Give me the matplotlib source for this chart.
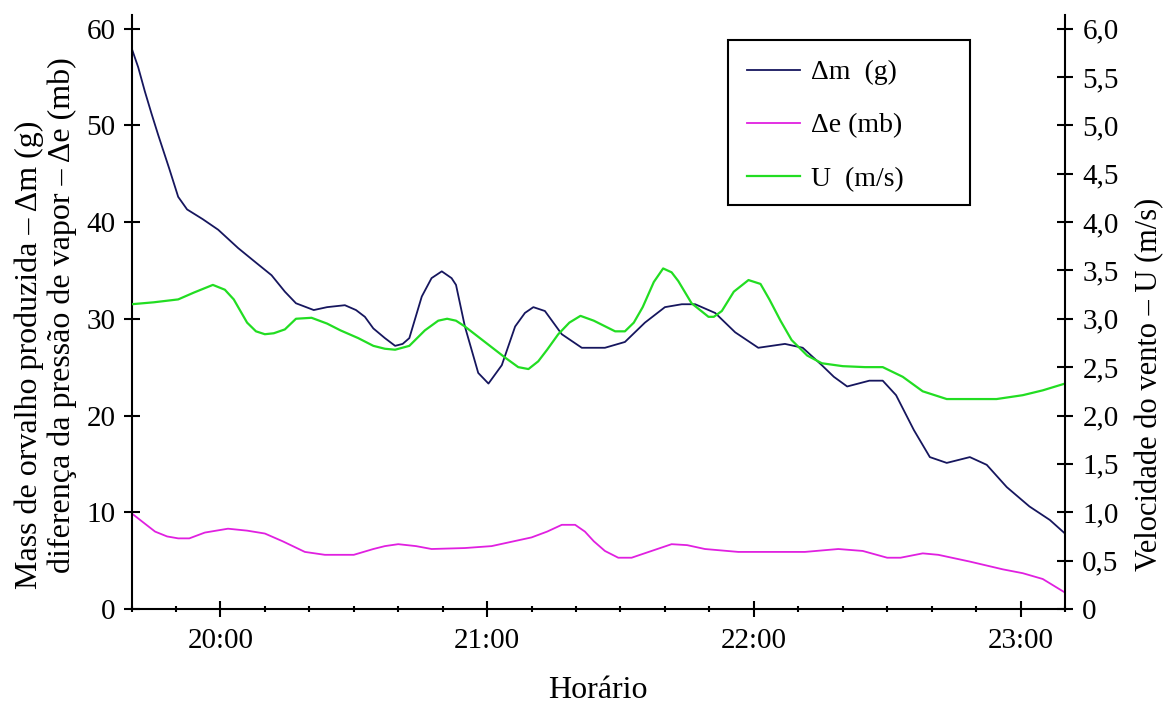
import matplotlib
matplotlib.use("Agg")
import matplotlib.pyplot as plt
from matplotlib.patches import Rectangle
from matplotlib.ticker import FixedLocator, MultipleLocator, FuncFormatter

plt.rcParams['font.family'] = ['Liberation Serif', 'DejaVu Serif']

# minutes after 19:40
dm_t = [0, 1.5, 3, 4.5, 6, 8.5, 10.5, 12.5, 16, 19.5, 24, 28, 31.5, 34.5, 37,
        41, 44, 48, 50.5, 52.5, 54.4, 57, 59.3, 61, 62.5, 65.3, 67.5, 69.8, 72,
        73, 75, 78, 80.3, 83.3, 86.3, 88.5, 90.4, 93, 96.8, 101.3, 106.5, 111,
        115.5, 120, 123.8, 126.8, 131.3, 135.8, 141, 147, 151, 155.3, 158, 161,
        166, 169, 172, 176, 179.6, 183.4, 188.6, 192.4, 196.9, 202, 206.6, 210]
dm = [58.0, 56.0, 53.5, 51.2, 49.0, 45.5, 42.6, 41.3, 40.3, 39.2, 37.3, 35.8,
      34.5, 32.8, 31.6, 30.9, 31.2, 31.4, 30.9, 30.2, 29.0, 28.0, 27.2, 27.4,
      28.0, 32.3, 34.2, 34.9, 34.2, 33.5, 29.2, 24.4, 23.3, 25.2, 29.2, 30.6,
      31.2, 30.8, 28.4, 27.0, 27.0, 27.6, 29.6, 31.2, 31.5, 31.5, 30.6, 28.6,
      27.0, 27.4, 27.0, 25.2, 24.0, 23.0, 23.6, 23.6, 22.1, 18.5, 15.7, 15.1,
      15.7, 14.9, 12.6, 10.6, 9.2, 7.8]

de_t = [0, 2.5, 5.3, 8, 10.5, 13, 16.5, 21.7, 26, 30, 34, 39, 43.5, 50, 54.4,
        57, 60, 64, 67.5, 75, 81, 86, 90, 93.5, 96.8, 99.8, 102, 104, 106.5,
        109.5, 112.5, 117, 121.5, 125, 129, 136.5, 151.5, 159, 164.5, 170, 173,
        178, 181.5, 188.6, 196, 200.5, 205, 210]
de = [9.9, 9.0, 8.0, 7.5, 7.3, 7.3, 7.9, 8.3, 8.1, 7.8, 7.0, 5.9, 5.6, 5.6,
      6.2, 6.5, 6.7, 6.5, 6.2, 6.3, 6.5, 7.0, 7.4, 8.0, 8.7, 8.7, 8.0, 7.0,
      6.0, 5.3, 5.3, 6.0, 6.7, 6.6, 6.2, 5.9, 5.9, 6.2, 6.0, 5.3, 5.3, 5.75,
      5.6, 4.9, 4.1, 3.7, 3.1, 1.7]

u_t = [0, 5, 10.5, 14, 18.3, 21, 23, 26, 28, 30, 32, 34.5, 37, 40.5, 44, 47,
       51, 54.4, 57, 59.3, 62.5, 66, 69, 71, 73, 75, 79.5, 84, 87, 89.3, 91.5,
       93.5, 96, 98.5, 101, 104, 108.8, 111, 113, 115, 117.5, 119.6, 121.5,
       123, 126, 129.8, 131, 132.8, 135.5, 138.8, 141.5, 143.5, 146, 148.5,
       152, 155.3, 160, 165, 169, 173.5, 178, 183.4, 190, 194.6, 200.5, 205, 210]
u = [3.15, 3.17, 3.20, 3.27, 3.35, 3.30, 3.20, 2.96, 2.87, 2.84, 2.85, 2.89,
     3.00, 3.01, 2.95, 2.88, 2.80, 2.72, 2.69, 2.68, 2.72, 2.88, 2.98, 3.00,
     2.98, 2.92, 2.76, 2.60, 2.50, 2.48, 2.56, 2.68, 2.84, 2.96, 3.03, 2.98,
     2.87, 2.87, 2.96, 3.12, 3.38, 3.52, 3.48, 3.39, 3.16, 3.02, 3.02, 3.08,
     3.28, 3.40, 3.36, 3.20, 2.98, 2.78, 2.62, 2.54, 2.51, 2.50, 2.50, 2.40,
     2.25, 2.17, 2.17, 2.17, 2.21, 2.26, 2.33]

hour_ticks = [20, 80, 140, 200]
hour_labels = ['20:00', '21:00', '22:00', '23:00']

fig = plt.figure(figsize=(11.68, 7.06), dpi=100)
ax = fig.add_axes([0.1126, 0.1374, 0.7992, 0.8414])
ax2 = ax.twinx()

l1, = ax.plot(dm_t, dm, color='#16165e', lw=1.3, label='Δm  (g)')
l2, = ax.plot(de_t, de, color='#e020e0', lw=1.3, label='Δe (mb)')
l3, = ax2.plot(u_t, u, color='#22dd22', lw=1.6, label='U  (m/s)')

ax.set_xlim(0, 210)
ax.set_ylim(0, 61.4)
ax2.set_ylim(0, 6.14)

for a in (ax, ax2):
    a.spines['top'].set_visible(False)
    for s in a.spines.values():
        s.set_linewidth(1.5)
ax.spines['right'].set_visible(False)
ax2.spines['left'].set_visible(False)
ax2.spines['bottom'].set_visible(False)

ax.xaxis.set_major_locator(FixedLocator(hour_ticks))
ax.set_xticklabels(hour_labels)
ax.xaxis.set_minor_locator(MultipleLocator(10))
ax.set_yticks(range(0, 61, 10))
ax2.set_yticks([i * 0.5 for i in range(13)])
ax2.yaxis.set_major_formatter(FuncFormatter(
    lambda v, p: '0' if v == 0 else f'{v:.1f}'.replace('.', ',')))

ax.tick_params(axis='x', which='major', direction='inout', length=11, width=1.5,
               labelsize=21, pad=8)
ax.tick_params(axis='x', which='minor', direction='inout', length=4, width=1.5)
ax.tick_params(axis='y', direction='inout', length=11, width=1.5,
               labelsize=21, pad=6)
ax2.tick_params(axis='y', direction='inout', length=11, width=1.5,
                labelsize=21, pad=7)

ax.set_xlabel('Horário', fontsize=23, labelpad=16)
fig.text(0.025, 0.497, 'Mass de orvalho produzida – Δm (g)', rotation=90,
         ha='center', va='center', fontsize=23)
fig.text(0.053, 0.553, 'diferença da pressão de vapor – Δe (mb)', rotation=90,
         ha='center', va='center', fontsize=23)
fig.text(0.984, 0.455, 'Velocidade do vento – U (m/s)', rotation=90,
         ha='center', va='center', fontsize=22)

# legend entries without frame, box drawn separately (wide right margin)
ax2.legend([l1, l2, l3], [l1.get_label(), l2.get_label(), l3.get_label()],
           loc='upper left', bbox_to_anchor=(726 / 1168, 1 - 39 / 706),
           bbox_transform=fig.transFigure, fontsize=20, frameon=False,
           borderaxespad=0, borderpad=0.75, labelspacing=1.0,
           handlelength=1.9, handletextpad=0.4)
fig.add_artist(Rectangle((728 / 1168, 1 - 205 / 706), 242 / 1168, 165 / 706,
                         transform=fig.transFigure, fill=False,
                         edgecolor='black', lw=1.5))

fig.savefig('out.png', dpi=100)
